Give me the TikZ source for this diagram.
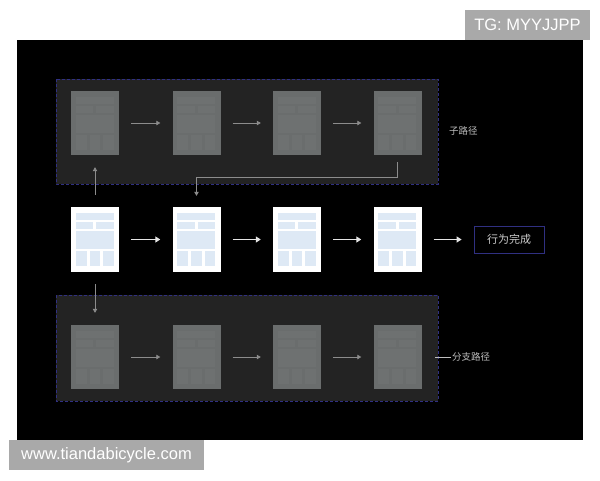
\documentclass[tikz,border=0pt]{standalone}
\usepackage{fontspec}
\setmainfont{Liberation Sans}
\newfontfamily\cjk{Noto Sans CJK SC}
\usepackage{tikz}
\usetikzlibrary{arrows.meta, positioning}
\definecolor{framefill}{RGB}{35,35,35}
\definecolor{framenavy}{RGB}{48,48,130}
\definecolor{mockgray}{RGB}{106,109,109}
\definecolor{mockline}{RGB}{110,113,113}
\definecolor{pageblue}{RGB}{222,233,245}
\definecolor{rowgray}{RGB}{140,140,140}
\definecolor{labelgray}{RGB}{190,190,190}
\definecolor{markgray}{RGB}{169,169,169}

% blocks of a page mock-up, in px from its top left corner
\newcommand{\pageblocks}[2]{%
  \begin{scope}[shift={(#1.north west)}]
    \fill[#2] (5,6) rectangle (43,13);
    \fill[#2] (5,15.5) rectangle (22.5,22);
    \fill[#2] (25.5,15.5) rectangle (43,22);
    \fill[#2] (5,24.5) rectangle (43,42);
    \fill[#2] (5,44.5) rectangle (16,59);
    \fill[#2] (19,44.5) rectangle (29.5,59);
    \fill[#2] (32.5,44.5) rectangle (43,59);
  \end{scope}}

\begin{document}
\begin{tikzpicture}[
    x=1pt, y=-1pt,
    frame/.style={draw=framenavy, fill=framefill, dashed, dash pattern=on 3pt off 2pt, line width=0.7pt},
    mainpage/.style={rectangle, inner sep=0pt, minimum width=48pt, minimum height=65pt, fill=white},
    mockpage/.style={rectangle, inner sep=0pt, minimum width=48pt, minimum height=64pt, fill=mockgray},
    rowarrow/.style={-{Triangle[length=4pt,width=4.5pt]}, rowgray, line width=0.8pt},
    mainarrow/.style={-{Triangle[length=5pt,width=6pt]}, white!90!black, line width=1.2pt},
    pathlabel/.style={font=\cjk\fontsize{9.5}{9.5}\selectfont, text=labelgray, inner sep=1pt, anchor=west},
    watermark/.style={fill=markgray, text=white, inner sep=0pt, font=\fontsize{16.5}{16.5}\selectfont}
]
    \useasboundingbox (0,0) rectangle (600,480);
    \fill[white] (0,0) rectangle (600,480);
    \fill[black] (17,40) rectangle (583,440);

    % dashed frames of the two side paths
    \filldraw[frame] (56,79) rectangle (438,184);
    \filldraw[frame] (56,295) rectangle (438,401);

    % sub path
    \node[mockpage] (t1) at (95,123) {};
    \node[mockpage] (t2) at (196.5,123) {};
    \node[mockpage] (t3) at (297,123) {};
    \node[mockpage] (t4) at (397.5,123) {};
    \node[pathlabel] (sublbl) at (448,131) {子路径};

    % main path
    \node[mainpage] (m1) at (95,239.5) {};
    \node[mainpage] (m2) at (196.5,239.5) {};
    \node[mainpage] (m3) at (297,239.5) {};
    \node[mainpage] (m4) at (397.5,239.5) {};
    \node[draw=framenavy, fill=black, line width=0.8pt, minimum width=70pt, minimum height=27pt,
          inner sep=0pt, text=white!80!black, font=\cjk\fontsize{11}{11}\selectfont] (done) at (509,239.5) {行为完成};

    % branch path
    \node[mockpage] (b1) at (95,357) {};
    \node[mockpage] (b2) at (196.5,357) {};
    \node[mockpage] (b3) at (297,357) {};
    \node[mockpage] (b4) at (397.5,357) {};
    \node[pathlabel] (branchlbl) at (451,357) {分支路径};

    \foreach \p in {m1,m2,m3,m4}
        \pageblocks{\p}{pageblue};
    \foreach \p in {t1,t2,t3,t4,b1,b2,b3,b4}
        \pageblocks{\p}{mockline};

    \foreach \a/\b in {t1/t2, t2/t3, t3/t4, b1/b2, b2/b3, b3/b4}
        \draw[rowarrow] ([xshift=12pt]\a.east) -- ([xshift=-12pt]\b.west);
    \foreach \a/\b in {m1/m2, m2/m3, m3/m4, m4/done}
        \draw[mainarrow] ([xshift=12pt]\a.east) -- ([xshift=-12pt]\b.west);

    \draw[rowarrow] ([yshift=12pt]m1.north) -- ([yshift=-12pt]t1.south);
    \draw[rowarrow] ([yshift=-12pt]m1.south) -- ([yshift=12pt]b1.north);
    \coordinate (turn) at (196.5,177);
    \draw[rowarrow] ([yshift=-7pt]t4.south) |- (turn) -- ([yshift=11pt]m2.north);
    \draw[labelgray, line width=0.6pt] (435,357) -- (branchlbl.west);

    % page marks
    \node[watermark, minimum width=125pt, minimum height=30pt] (tgmark) at (527.5,25) {TG: MYYJJPP};
    \node[watermark, minimum width=195pt, minimum height=30pt] (sitemark) at (106.5,455) {www.tiandabicycle.com};
\end{tikzpicture}
\end{document}
